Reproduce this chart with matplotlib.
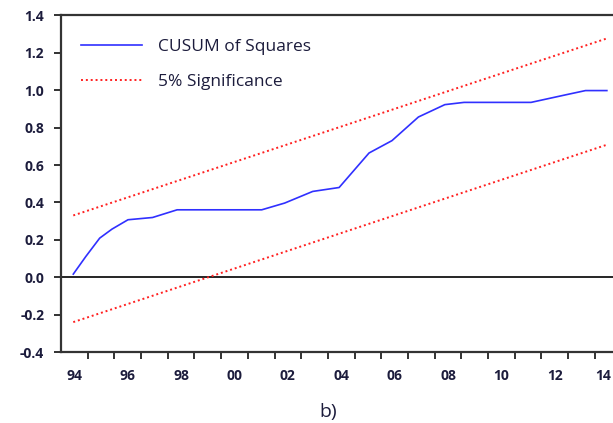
import numpy as np
import matplotlib.pyplot as plt

# CUSUM of squares (fractional years)
yrs = [1994.46, 1994.93, 1995.45, 1995.91, 1996.51, 1997.43, 1998.35, 2001.52,
       2002.38, 2003.43, 2004.42, 2005.15, 2005.54, 2006.40, 2007.39, 2008.38,
       2009.10, 2011.61, 2012.93, 2013.65, 2014.45]
cusum = [0.018, 0.112, 0.21, 0.258, 0.308, 0.32, 0.361, 0.361,
         0.397, 0.459, 0.48, 0.60, 0.664, 0.73, 0.856, 0.922,
         0.934, 0.934, 0.975, 0.997, 0.997]

# 5% bounds (straight lines)
bound_yrs = [1994.46, 2014.45]
lower = [-0.238, 0.708]
upper = [0.331, 1.275]

yticks = [1.4, 1.2, 1.0, 0.8, 0.6, 0.4, 0.2, 0.0, -0.2, -0.4]
xlabels = ["94", "96", "98", "00", "02", "04", "06", "08", "10", "12", "14"]

txt = "#1c1c3c"
plt.rcParams['font.family'] = ['Open Sans', 'DejaVu Sans']

fig = plt.figure(figsize=(6.13, 4.23), dpi=100)
ax = fig.add_axes([0.0995, 0.1667, 0.9005, 0.7978])

ax.axhline(0, color="black", lw=1.2, zorder=1)
ax.plot(yrs, cusum, color="#3030ff", lw=1.2, label="CUSUM of Squares", zorder=3)
ax.plot(bound_yrs, lower, color="#ff2020", lw=1.4, ls=(0, (1.0, 1.5)),
        label="5% Significance", zorder=2)
ax.plot(bound_yrs, upper, color="#ff2020", lw=1.4, ls=(0, (1.0, 1.5)), zorder=2)

ax.set_xlim(1994.0, 2014.68)
ax.set_ylim(-0.4, 1.4)

# year ticks at year boundaries, labels centred on even years
ax.set_xticks(np.arange(1995, 2015))
ax.set_xticklabels([])
label_pos = list(np.arange(1994, 2014, 2) + 0.5) + [2014.3]
ax.set_xticks(label_pos, minor=True)
ax.set_xticklabels(xlabels, minor=True)
ax.tick_params(axis="x", which="major", direction="out", length=5, width=1.3,
               color="#222222")
ax.tick_params(axis="x", which="minor", length=0, pad=12, labelsize=10,
               labelcolor=txt)

ax.set_yticks(yticks)
ax.set_yticklabels(["%.1f" % v for v in yticks])
ax.tick_params(axis="y", direction="out", length=5, width=1.3, color="#222222",
               pad=7, labelsize=10, labelcolor=txt)
for lab in ax.get_yticklabels() + ax.get_xticklabels(minor=True):
    lab.set_fontweight("bold")

for s in ["left", "top", "bottom"]:
    ax.spines[s].set_linewidth(1.6)
    ax.spines[s].set_color("#333333")
ax.spines["right"].set_visible(False)

leg = ax.legend(loc="upper left", frameon=False, fontsize=12.5, handlelength=3.5,
                handletextpad=0.9, labelspacing=1.1, borderaxespad=0.0,
                bbox_to_anchor=(0.024, 0.95))
for t in leg.get_texts():
    t.set_color(txt)

fig.text(0.535, 0.015, "b)", fontsize=14, color=txt, ha="center")

fig.savefig("out.png", dpi=100)
